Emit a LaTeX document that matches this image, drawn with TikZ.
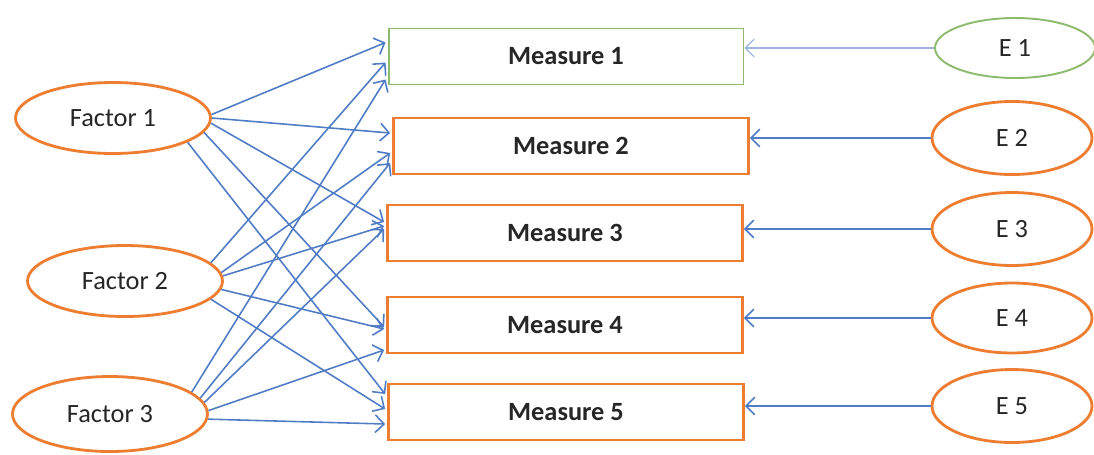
\documentclass[tikz,border=0pt]{standalone}
\usepackage{fontspec}
\setmainfont{Carlito}
\usetikzlibrary{arrows.meta,calc,shapes.geometric}
\definecolor{orng}{HTML}{ED7D31}
\definecolor{grn}{HTML}{8DBB6E}
\definecolor{blu}{HTML}{4F7CC4}
\definecolor{lblu}{HTML}{9DB5DE}
\definecolor{txt}{HTML}{262626}
\begin{document}
\begin{tikzpicture}[x=0.02cm,y=-0.02cm,
  factor/.style={ellipse,draw=orng,line width=1.6pt,minimum width=3.9cm,minimum height=1.42cm,inner sep=0pt,font=\fontsize{15}{18}\selectfont,text=txt},
  err/.style={ellipse,draw=orng,line width=1.6pt,minimum width=3.2cm,minimum height=1.46cm,inner sep=0pt,font=\fontsize{15}{18}\selectfont,text=txt},
  meas/.style={rectangle,draw=orng,line width=1.6pt,minimum width=7.1cm,minimum height=1.12cm,inner sep=0pt,font=\fontsize{15}{18}\selectfont\bfseries,text=txt},
  conn/.style={draw=blu,line width=0.9pt,-{Straight Barb[length=5pt,width=10pt]}}]
\useasboundingbox (0,0) rectangle (1094,454);
% factors
\node[factor] (F1) at (113,118) {Factor 1};
\node[factor] (F2) at (125,281) {Factor 2};
\node[factor,minimum height=1.5cm] (F3) at (110,414) {Factor 3};
% measures
\node[meas,draw=grn,line width=1.1pt] (M1) at (566,56.5) {Measure 1};
\node[meas] (M2) at (571,146) {Measure 2};
\node[meas] (M3) at (565,233) {Measure 3};
\node[meas] (M4) at (565,325) {Measure 4};
\node[meas] (M5) at (566,412) {Measure 5};
% errors
\node[err,draw=grn,line width=1.1pt,minimum height=1.2cm] (E1) at (1015,48) {E 1};
\node[err] (E2) at (1012,138) {E 2};
\node[err] (E3) at (1012,229) {E 3};
\node[err,minimum height=1.4cm] (E4) at (1012,318) {E 4};
\node[err] (E5) at (1012,406) {E 5};
% factor loadings
\foreach \f/\a/\m/\o in {
  F1/2/M1/-14, F1/0/M2/-13, F1/-3/M3/-11, F1/-9/M4/2, F1/-18/M5/-18,
  F2/12/M1/6, F2/5/M2/7, F2/3/M3/-7, F2/-5/M4/4, F2/-12/M5/-3,
  F3/15/M1/23, F3/10/M2/17, F3/7/M3/-4, F3/2/M4/25, F3/-3/M5/12}
  \draw[conn] (\f.\a) -- ($(\m.west)+(-2,\o)$);
% error arrows
\draw[conn,draw=lblu,line width=0.7pt] (E1.west) -- (E1.west -| M1.east);
\foreach \i in {2,3,4,5}
  \draw[conn] (E\i.west) -- (E\i.west -| M\i.east);
\end{tikzpicture}
\end{document}
